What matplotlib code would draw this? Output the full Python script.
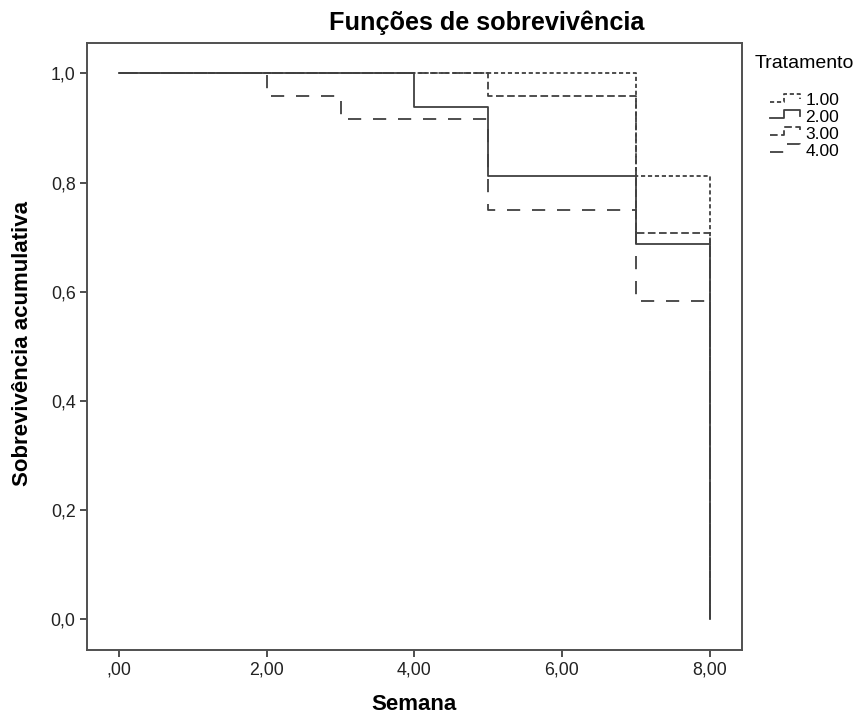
import matplotlib
matplotlib.use('Agg')
import matplotlib.pyplot as plt
from matplotlib.lines import Line2D
from matplotlib.legend_handler import HandlerBase

plt.rcParams['font.family'] = ['Liberation Sans', 'DejaVu Sans']
plt.rcParams['lines.scale_dashes'] = False

# Tempos de evento e sobrevivência acumulada por tratamento
t1 = [0, 7, 8]
s1 = [1.0, 0.8125, 0.0]
t2 = [0, 4, 5, 7, 8]
s2 = [1.0, 0.9375, 0.8125, 0.6875, 0.0]
t3 = [0, 5, 7, 8]
s3 = [1.0, 0.9583, 0.7083, 0.0]
t4 = [0, 2, 3, 5, 7, 8]
s4 = [1.0, 0.9583, 0.9167, 0.75, 0.5833, 0.0]

labels = ['1.00', '2.00', '3.00', '4.00']
xticks = [0, 2, 4, 6, 8]
xticklabels = [',00', '2,00', '4,00', '6,00', '8,00']
yticks = [0.0, 0.2, 0.4, 0.6, 0.8, 1.0]
yticklabels = ['0,0', '0,2', '0,4', '0,6', '0,8', '1,0']

styles = [(0, (3, 2)), '-', (0, (5.5, 2.5)), (0, (9.5, 8.5))]
col = '#404040'


class StepHandler(HandlerBase):
    # chave da legenda em forma de degrau, como no SPSS
    def create_artists(self, legend, orig_handle, xdescent, ydescent,
                       width, height, fontsize, trans):
        y0 = height * 0.3 - ydescent
        y1 = height * 0.95 - ydescent
        xs = [-xdescent, 0.45 * width, 0.45 * width, 0.95 * width, 0.95 * width]
        ys = [y0, y0, y1, y1, y0 + 0.3 * (y1 - y0)]
        ln = Line2D(xs, ys)
        ln.update_from(orig_handle)
        ln.set_drawstyle('default')
        ln.set_clip_on(False)
        ln.set_clip_box(None)
        ln.set_clip_path(None)
        ln.set_data(xs, ys)
        ln.set_transform(trans)
        return [ln]


fig = plt.figure(figsize=(8.59, 7.15), dpi=100)
ax = fig.add_axes([0.1009, 0.0909, 0.7629, 0.849])

lines = []
for t, s, ls, lab in zip([t1, t2, t3, t4], [s1, s2, s3, s4], styles, labels):
    ln, = ax.step(t, s, where='post', color=col, linestyle=ls, linewidth=1.3, label=lab)
    lines.append(ln)

ax.set_xlim(-0.44, 8.44)
ax.set_ylim(-0.056, 1.0555)
ax.set_xticks(xticks)
ax.set_xticklabels(xticklabels)
ax.set_yticks(yticks)
ax.set_yticklabels(yticklabels)
ax.tick_params(direction='out', length=5, width=1.3, color='#404040',
               labelsize=12.8, labelcolor='#222222', pad=3)
for sp in ax.spines.values():
    sp.set_color('#505050')
    sp.set_linewidth(1.4)

fig.text(414 / 859, 1 - 704 / 715, 'Semana', ha='center', va='center',
         fontsize=16, fontweight='bold')
fig.text(23 / 859, 1 - 344 / 715, 'Sobrevivência acumulativa', ha='center',
         va='center', rotation=90, fontsize=16, fontweight='bold')
fig.text(0.566, 1 - 23 / 715, 'Funções de sobrevivência', ha='center', va='center',
         fontsize=18.2, fontweight='bold')
fig.text(755 / 859, 1 - 64 / 715, 'Tratamento', ha='left', va='center', fontsize=14)

leg = fig.legend(lines, labels, loc='upper left',
                 bbox_to_anchor=(770 / 859, 1 - 93 / 715), frameon=False, fontsize=12.5,
                 handlelength=1.8, handletextpad=0.25, labelspacing=0.1, borderpad=0,
                 borderaxespad=0, handler_map={Line2D: StepHandler()})

fig.savefig('out.png', dpi=100)
